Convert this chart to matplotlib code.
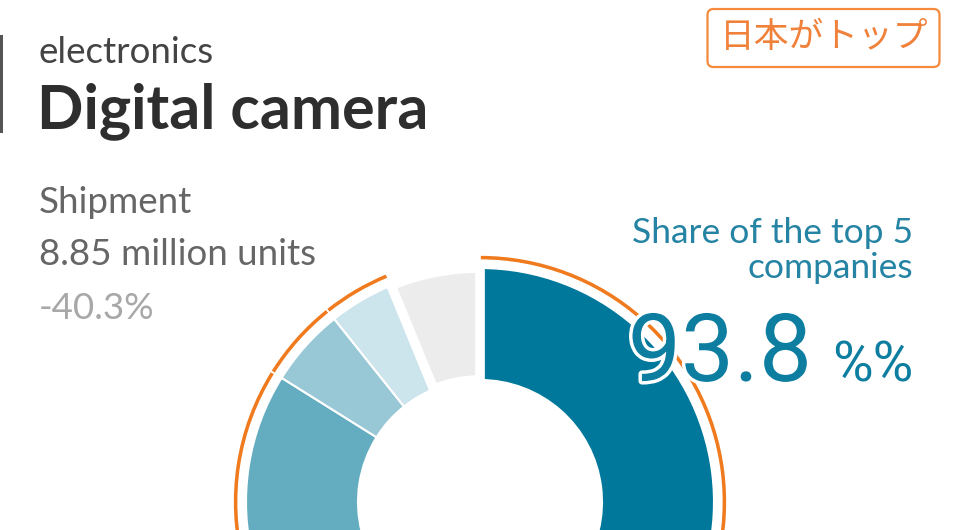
import matplotlib
matplotlib.use("Agg")
import matplotlib.pyplot as plt
import matplotlib.patheffects as pe
from matplotlib.patches import FancyBboxPatch, Rectangle

# ---- data ----
categories = ["Company 1", "Company 2", "Company 3", "Company 4", "Company 5", "Others"]
shares = [46.0, 25.0, 12.9, 5.4, 4.5, 6.2]
top5_share = "93.8"
category_label = "electronics"
title = "Digital camera"
metric_label = "Shipment"
metric_value = "8.85 million units"
metric_change = "-40.3%"
tag_text = "日本がトップ"
share_label = ["Share of the top 5", "companies"]

W, H = 960, 530
fig = plt.figure(figsize=(W / 100, H / 100), dpi=100)
ax = fig.add_axes([0, 0, 1, 1])

def Y(p):
    return H - p

wedge_colors = ["#00789b", "#3392ae", "#64acc0", "#98c8d6", "#cce4eb", "#ececec"]
cx, cy = 480, Y(502)

wedges, _ = ax.pie(shares, radius=234, center=(cx, cy), startangle=90,
                   counterclock=False, colors=wedge_colors,
                   wedgeprops=dict(width=112, edgecolor="white", linewidth=1.5))
wedges[-1].set_linewidth(7)

orange = "#f07a1e"
arc_colors = [orange] * (len(shares) - 1) + ["none"]
arcs, _ = ax.pie(shares, radius=247, center=(cx, cy), startangle=90,
                 counterclock=False, colors=arc_colors,
                 wedgeprops=dict(width=5.2, edgecolor="white", linewidth=1.2))
arcs[-1].set_edgecolor("none")

ax.set_xlim(0, W)
ax.set_ylim(0, H)
ax.set_aspect("equal")
ax.axis("off")

main_font = ["Lato", "DejaVu Sans"]

# left bar
ax.add_patch(Rectangle((0, Y(133)), 3, 98, color="#555555", lw=0))

ax.text(39, Y(63), category_label, fontsize=26.5, color="#444444",
        family=main_font, va="baseline", ha="left")
ax.text(37, Y(128), title, fontsize=44, color="#2e2e2e", fontweight="bold",
        family=main_font, va="baseline", ha="left")

ax.text(39, Y(213), metric_label, fontsize=26.5, color="#666666",
        family=main_font, va="baseline", ha="left")
ax.text(39, Y(265), metric_value, fontsize=26.5, color="#666666",
        family=main_font, va="baseline", ha="left")
ax.text(39, Y(319), metric_change, fontsize=26.5, color="#a8a8a8",
        family=main_font, va="baseline", ha="left")

# tag
ax.add_patch(FancyBboxPatch((707.5, Y(67)), 232, 58,
                            boxstyle="round,pad=0,rounding_size=6",
                            facecolor="white", edgecolor="#f5893c", lw=1.6))
ax.text(824, Y(38), tag_text, fontsize=25, color="#f0813a",
        family=["Noto Sans CJK JP", "DejaVu Sans"], ha="center", va="center")

teal_text = "#2583a3"
ax.text(913, Y(243), share_label[0], fontsize=25.5, color=teal_text,
        family=main_font, ha="right", va="baseline")
ax.text(913, Y(278), share_label[1], fontsize=25.5, color=teal_text,
        family=main_font, ha="right", va="baseline")

ax.text(812, Y(381), top5_share, fontsize=68, color="#0d7da0",
        family=["Roboto", "DejaVu Sans"], ha="right", va="baseline",
        path_effects=[pe.withStroke(linewidth=5, foreground="white")])
ax.text(913, Y(381), "%%", fontsize=40, color="#0d7da0",
        family=["Roboto", "DejaVu Sans"], ha="right", va="baseline")

fig.savefig("out.png", dpi=100, facecolor="white")
